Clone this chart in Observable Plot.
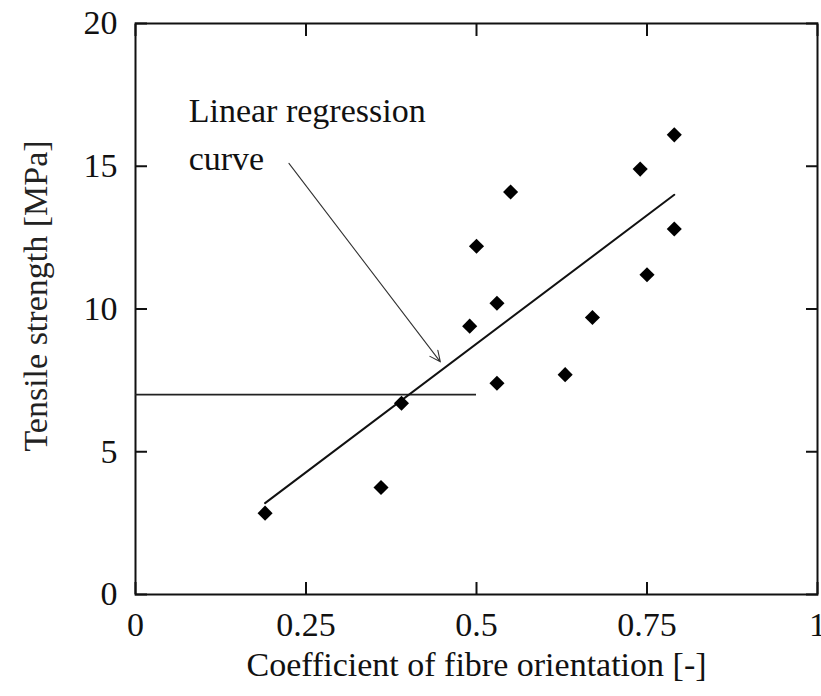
<!DOCTYPE html>
<html>
<head>
<meta charset="utf-8">
<script src="https://cdn.jsdelivr.net/npm/d3@7"></script>
<script src="https://cdn.jsdelivr.net/npm/@observablehq/plot@0.6"></script>
<style>
  html, body { margin: 0; padding: 0; background: #fff; }
  svg { display: block; }
</style>
</head>
<body>
<div id="chart"></div>
<script>
// Data
const orientation = [0.19, 0.36, 0.39, 0.49, 0.50, 0.53, 0.53, 0.55, 0.63, 0.67, 0.74, 0.75, 0.79, 0.79];
const strength    = [2.85, 3.75, 6.7, 9.4, 12.2, 10.2, 7.4, 14.1, 7.7, 9.7, 14.9, 11.2, 12.8, 16.1];
const regressionX = [0.19, 0.79];
const regressionY = [3.2, 14.0];
const referenceY = 7;
const referenceX = [0, 0.5];
const xTicks = [0, 0.25, 0.5, 0.75, 1];
const xTickLabels = ["0", "0.25", "0.5", "0.75", "1"];
const yTicks = [0, 5, 10, 15, 20];
const xLabel = "Coefficient of fibre orientation [-]";
const yLabel = "Tensile strength [MPa]";
const annotation = "Linear regression\ncurve";
const arrowFrom = [0.225, 15.1];
const arrowTo = [0.447, 8.15];

const points = orientation.map((x, i) => ({x, y: strength[i]}));
const regression = regressionX.map((x, i) => ({x, y: regressionY[i]}));

const font = "'Liberation Serif', 'Times New Roman', serif";
const ink = "#111";

const chart = Plot.plot({
  width: 821,
  height: 696,
  marginLeft: 135,
  marginRight: 4,
  marginTop: 23,
  marginBottom: 102,
  style: {fontFamily: font, fontSize: "34px", color: ink, background: "#fff", overflow: "visible"},
  x: {domain: [0, 1]},
  y: {domain: [0, 20]},
  marks: [
    // inward ticks on all four sides
    Plot.axisX(xTicks, {anchor: "bottom", tickSize: -12, tickFormat: () => "", label: null, strokeWidth: 2}),
    Plot.axisX(xTicks, {anchor: "top", tickSize: -12, tickFormat: () => "", label: null, strokeWidth: 2}),
    Plot.axisY(yTicks, {anchor: "left", tickSize: -12, tickFormat: () => "", label: null, strokeWidth: 2}),
    Plot.axisY(yTicks, {anchor: "right", tickSize: -12, tickFormat: () => "", label: null, strokeWidth: 2}),
    // tick labels
    Plot.axisX(xTicks, {anchor: "bottom", tickSize: 0, tickPadding: 17, tickFormat: (d, i) => xTickLabels[i],
      label: null, fontSize: 34, fontFamily: font, fill: ink}),
    Plot.axisY(yTicks, {anchor: "left", tickSize: 0, tickPadding: 18, tickFormat: d => String(d),
      label: null, fontSize: 34, fontFamily: font, fill: ink}),
    // axis titles
    Plot.text([xLabel], {frameAnchor: "bottom", text: d => d, dy: 81, fontSize: 34, fontFamily: font, fill: ink}),
    Plot.text([yLabel], {frameAnchor: "left", textAnchor: "middle", text: d => d, rotate: -90, dx: -99, dy: -13,
      fontSize: 34, fontFamily: font, fill: "#222"}),
    Plot.frame({stroke: ink, strokeWidth: 2}),
    // reference horizontal line
    Plot.ruleY([referenceY], {x1: referenceX[0], x2: referenceX[1], stroke: "#222", strokeWidth: 1.6}),
    // regression line
    Plot.line(regression, {x: "x", y: "y", stroke: ink, strokeWidth: 2}),
    // data points
    Plot.dot(points, {x: "x", y: "y", symbol: "diamond2", r: 6.8, fill: "#000", stroke: "none"}),
    // annotation
    Plot.arrow([{x1: arrowFrom[0], y1: arrowFrom[1], x2: arrowTo[0], y2: arrowTo[1]}],
      {x1: "x1", y1: "y1", x2: "x2", y2: "y2", stroke: "#333", strokeWidth: 1.1, headLength: 16, headAngle: 50, bend: false}),
    Plot.text([annotation], {x: 0.078, y: 17.75, text: d => d, textAnchor: "start", lineAnchor: "top",
      lineHeight: 1.42, fontSize: 34, fontFamily: font, fill: ink})
  ]
});

document.getElementById("chart").appendChild(chart);
</script>
</body>
</html>
